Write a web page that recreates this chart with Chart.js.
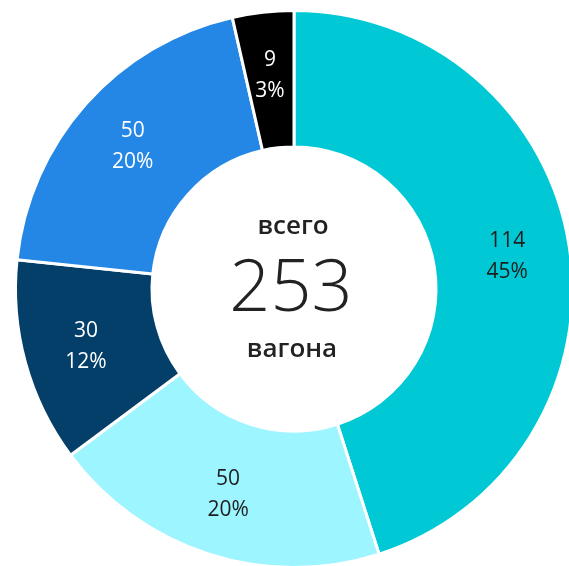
<!DOCTYPE html>
<html>
<head>
<meta charset="utf-8">
<script src="https://cdn.jsdelivr.net/npm/chart.js@4"></script>
<style>
  html, body { margin: 0; padding: 0; background: #fff; overflow: hidden; }
  body { width: 569px; height: 566px; position: relative; }
  #wagonChart { position: absolute; left: 0; top: 0; }
</style>
</head>
<body>
<canvas id="wagonChart" width="588" height="578"></canvas>
<script>
const categories = ["cyan", "light", "dark", "blue", "black"];
const wagonValues = [114, 50, 30, 50, 9];
const percentLabels = ["45%", "20%", "12%", "20%", "3%"];
const sliceColors = ["#00c9d5", "#9cf5ff", "#033f69", "#2487e5", "#000000"];
const labelColors = ["#1e1e1e", "#1e1e1e", "#ffffff", "#ffffff", "#ffffff"];
const centerTop = "всего";
const centerTotal = "253";
const centerBottom = "вагона";

// подписи на сегментах
const sliceLabels = {
  id: "sliceLabels",
  afterDatasetsDraw(chart) {
    const ctx = chart.ctx;
    const meta = chart.getDatasetMeta(0);
    ctx.save();
    ctx.textAlign = "center";
    ctx.textBaseline = "middle";
    ctx.font = "400 21px 'Open Sans', sans-serif";
    meta.data.forEach((arc, i) => {
      const p = arc.getProps(["x", "y", "startAngle", "endAngle", "innerRadius", "outerRadius"]);
      const mid = (p.startAngle + p.endAngle) / 2;
      const r = p.innerRadius + 0.54 * (p.outerRadius - p.innerRadius);
      const x = p.x + Math.cos(mid) * r;
      const y = p.y + Math.sin(mid) * r;
      ctx.fillStyle = labelColors[i];
      ctx.fillText(String(wagonValues[i]), x, y - 15);
      ctx.fillText(percentLabels[i], x, y + 16);
    });
    ctx.restore();
  },
};

// текст в центре
const centerText = {
  id: "centerText",
  afterDraw(chart) {
    const ctx = chart.ctx;
    const arc = chart.getDatasetMeta(0).data[0];
    const cx = arc.x, cy = arc.y;
    ctx.save();
    ctx.textAlign = "center";
    ctx.textBaseline = "middle";
    ctx.fillStyle = "#222222";
    ctx.font = "600 26px 'Open Sans', sans-serif";
    ctx.fillText(centerTop, cx - 1, cy - 62);
    ctx.fillText(centerBottom, cx - 2, cy + 61);
    ctx.font = "300 72px 'Open Sans', sans-serif";
    ctx.fillText(centerTotal, cx - 3, cy + 1);
    ctx.restore();
  },
};

new Chart(document.getElementById("wagonChart"), {
  type: "doughnut",
  data: {
    labels: categories,
    datasets: [
      {
        data: wagonValues,
        backgroundColor: sliceColors,
        borderColor: "#ffffff",
        borderWidth: 3,
        hoverOffset: 0,
      },
    ],
  },
  options: {
    responsive: false,
    animation: false,
    cutout: "51%",
    layout: { padding: 9 },
    plugins: {
      legend: { display: false },
      tooltip: { enabled: false },
    },
  },
  plugins: [sliceLabels, centerText],
});
</script>
</body>
</html>
